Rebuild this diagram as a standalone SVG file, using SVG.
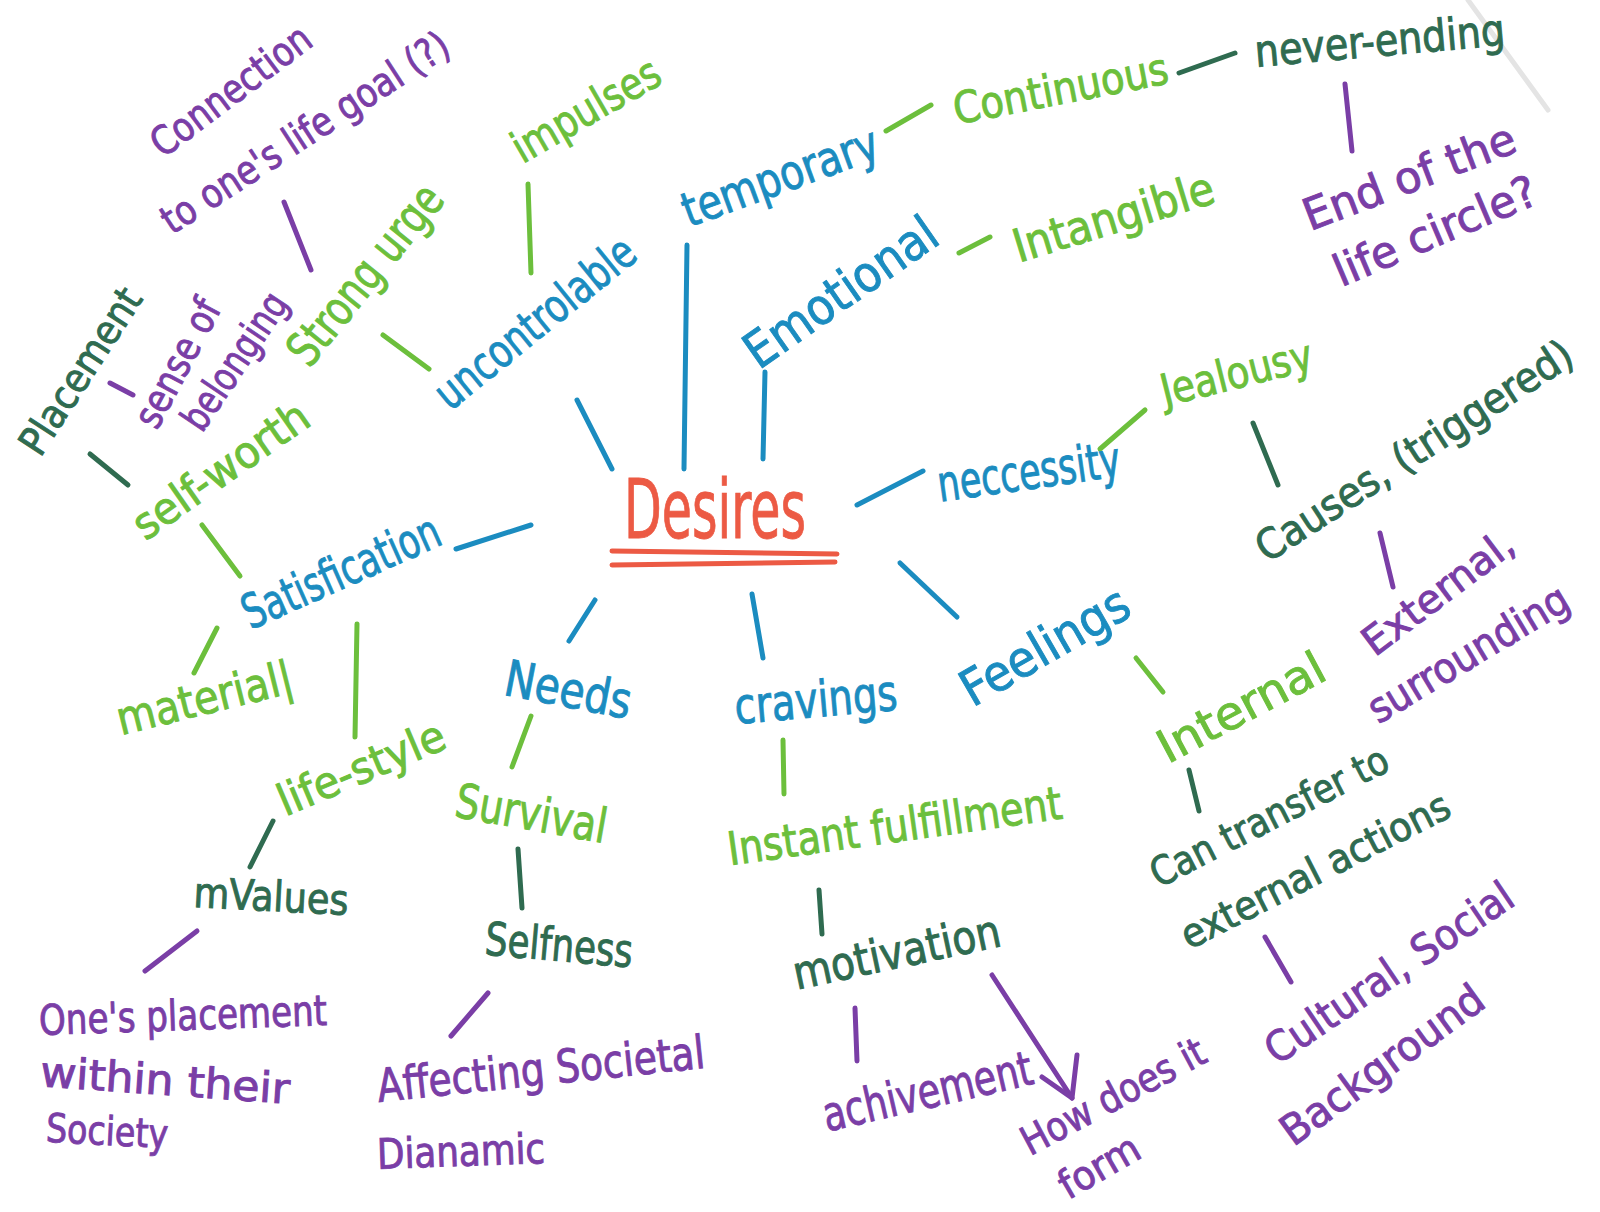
<svg xmlns="http://www.w3.org/2000/svg" width="1600" height="1212" viewBox="0 0 1600 1212">
<defs>
<style>
text{font-family:"Liberation Sans Narrow","DejaVu Sans Condensed","Liberation Sans",sans-serif;text-anchor:middle;stroke-width:0.9}
.b{fill:#1b8cc0;stroke:#1b8cc0}.r{fill:#ec5a44;stroke:#ec5a44}.g{fill:#6cbf3c;stroke:#6cbf3c}.dg{fill:#2f6b50;stroke:#2f6b50}.p{fill:#7a3ea6;stroke:#7a3ea6}
line,path{fill:none;stroke-width:5;stroke-linecap:round;stroke-linejoin:round}
.sb{stroke:#1b8cc0}.sr{stroke:#ec5a44}.sg{stroke:#6cbf3c}.sdg{stroke:#2f6b50}.sp{stroke:#7a3ea6}
</style>
</defs>
<rect width="1600" height="1212" fill="#ffffff"/>
<line x1="1468" y1="0" x2="1548" y2="110" stroke="#e4e4e4" stroke-width="0.8"/>

<g id="connectors">
<line class="sp" x1="284" y1="202" x2="311" y2="270"/>
<line class="sg" x1="528" y1="184" x2="531" y2="273"/>
<line class="sg" x1="383" y1="335" x2="429" y2="369"/>
<line class="sp" x1="110" y1="383" x2="133" y2="395"/>
<line class="sdg" x1="90" y1="454" x2="128" y2="485"/>
<line class="sg" x1="202" y1="525" x2="240" y2="576"/>
<line class="sb" x1="456" y1="549" x2="531" y2="525"/>
<line class="sg" x1="217" y1="628" x2="194" y2="673"/>
<line class="sg" x1="357" y1="624" x2="355" y2="737"/>
<line class="sb" x1="577" y1="400" x2="612" y2="469"/>
<line class="sb" x1="687" y1="245" x2="684" y2="469"/>
<line class="sb" x1="765" y1="372" x2="763" y2="459"/>
<line class="sb" x1="857" y1="505" x2="923" y2="471"/>
<line class="sb" x1="900" y1="563" x2="957" y2="617"/>
<line class="sb" x1="752" y1="594" x2="763" y2="658"/>
<line class="sb" x1="595" y1="600" x2="569" y2="641"/>
<line class="sg" x1="531" y1="716" x2="512" y2="767"/>
<line class="sdg" x1="518" y1="849" x2="522" y2="908"/>
<line class="sp" x1="488" y1="993" x2="451" y2="1036"/>
<line class="sdg" x1="273" y1="821" x2="250" y2="867"/>
<line class="sp" x1="197" y1="931" x2="145" y2="971"/>
<line class="sg" x1="783" y1="740" x2="784" y2="794"/>
<line class="sdg" x1="819" y1="890" x2="822" y2="934"/>
<line class="sp" x1="855" y1="1008" x2="857" y2="1061"/>
<line class="sp" x1="992" y1="975" x2="1072" y2="1098"/>
<path class="sp" d="M1042,1077 L1072,1098 L1077,1055"/>
<line class="sg" x1="1136" y1="658" x2="1163" y2="692"/>
<line class="sdg" x1="1189" y1="770" x2="1199" y2="811"/>
<line class="sp" x1="1265" y1="937" x2="1291" y2="982"/>
<line class="sg" x1="1100" y1="449" x2="1145" y2="410"/>
<line class="sdg" x1="1253" y1="423" x2="1278" y2="485"/>
<line class="sp" x1="1380" y1="533" x2="1393" y2="587"/>
<line class="sg" x1="959" y1="253" x2="990" y2="237"/>
<line class="sg" x1="886" y1="131" x2="931" y2="105"/>
<line class="sdg" x1="1179" y1="73" x2="1235" y2="53"/>
<line class="sp" x1="1345" y1="84" x2="1352" y2="151"/>
</g>

<g id="desires">
<text class="r" x="715" y="538" font-size="82" textLength="182" lengthAdjust="spacingAndGlyphs">Desires</text>
<line class="sr" x1="612" y1="551" x2="837" y2="554"/>
<line class="sr" x1="612" y1="565" x2="835" y2="562"/>
</g>

<g id="connection">
<text class="p" transform="translate(232,92) rotate(-37)" y="12" font-size="40" textLength="190" lengthAdjust="spacingAndGlyphs">Connection</text>
<text class="p" transform="translate(306,134) rotate(-33)" y="12" font-size="40" textLength="335" lengthAdjust="spacingAndGlyphs">to one's life goal (?)</text>
</g>
<g id="impulses" transform="translate(587,112) rotate(-30)"><text class="g" y="13" font-size="44" textLength="164" lengthAdjust="spacingAndGlyphs">impulses</text></g>
<g id="strong-urge" transform="translate(367,276) rotate(-51)"><text class="g" y="14" font-size="48" textLength="217" lengthAdjust="spacingAndGlyphs">Strong urge</text></g>
<g id="uncontrolable" transform="translate(536,324) rotate(-39)"><text class="b" y="14" font-size="46" textLength="244" lengthAdjust="spacingAndGlyphs">uncontrolable</text></g>
<g id="placement" transform="translate(82,372) rotate(-57)"><text class="dg" y="12" font-size="40" textLength="190" lengthAdjust="spacingAndGlyphs">Placement</text></g>
<g id="sense-of-belonging">
<text class="p" transform="translate(179,364) rotate(-62)" y="12" font-size="40" textLength="139" lengthAdjust="spacingAndGlyphs">sense of</text>
<text class="p" transform="translate(236,362) rotate(-56)" y="12" font-size="40" textLength="157" lengthAdjust="spacingAndGlyphs">belonging</text>
</g>
<g id="self-worth" transform="translate(222,472) rotate(-35)"><text class="g" y="13" font-size="44" textLength="205" lengthAdjust="spacingAndGlyphs">self-worth</text></g>
<g id="satisfication" transform="translate(342,574) rotate(-24)"><text class="b" y="14" font-size="48" textLength="212" lengthAdjust="spacingAndGlyphs">Satisfication</text></g>
<g id="material" transform="translate(205,700) rotate(-14)"><text class="g" y="14" font-size="46" textLength="180" lengthAdjust="spacingAndGlyphs">material|</text></g>
<g id="life-style" transform="translate(362,770) rotate(-23)"><text class="g" y="13" font-size="44" textLength="178" lengthAdjust="spacingAndGlyphs">life-style</text></g>
<g id="needs" transform="translate(568,692) rotate(11)"><text class="b" y="15" font-size="50" textLength="128" lengthAdjust="spacingAndGlyphs">Needs</text></g>
<g id="survival" transform="translate(531,816) rotate(10)"><text class="g" y="14" font-size="48" textLength="153" lengthAdjust="spacingAndGlyphs">Survival</text></g>
<g id="selfness" transform="translate(559,947) rotate(5)"><text class="dg" y="14" font-size="46" textLength="148" lengthAdjust="spacingAndGlyphs">Selfness</text></g>
<g id="affecting">
<text class="p" transform="translate(541,1071) rotate(-6)" y="14" font-size="46" textLength="329" lengthAdjust="spacingAndGlyphs">Affecting Societal</text>
<text class="p" transform="translate(461,1153) rotate(-2)" y="13" font-size="42" textLength="168" lengthAdjust="spacingAndGlyphs">Dianamic</text>
</g>
<g id="values" transform="translate(271,898) rotate(3)"><text class="dg" y="13" font-size="42" textLength="155" lengthAdjust="spacingAndGlyphs">mValues</text></g>
<g id="ones-placement">
<text class="p" transform="translate(183,1017) rotate(-2)" y="13" font-size="42" textLength="288" lengthAdjust="spacingAndGlyphs">One's placement</text>
<text class="p" transform="translate(165,1082) rotate(4)" y="13" font-size="42" textLength="250" lengthAdjust="spacingAndGlyphs">within their</text>
<text class="p" transform="translate(107,1133) rotate(3)" y="12" font-size="40" textLength="122" lengthAdjust="spacingAndGlyphs">Society</text>
</g>
<g id="cravings" transform="translate(816,702) rotate(-5)"><text class="b" y="15" font-size="50" textLength="163" lengthAdjust="spacingAndGlyphs">cravings</text></g>
<g id="instant" transform="translate(895,828) rotate(-8)"><text class="g" y="14" font-size="46" textLength="337" lengthAdjust="spacingAndGlyphs">Instant fulfillment</text></g>
<g id="motivation" transform="translate(897,954) rotate(-12)"><text class="dg" y="14" font-size="46" textLength="211" lengthAdjust="spacingAndGlyphs">motivation</text></g>
<g id="achivement" transform="translate(928,1094) rotate(-13)"><text class="p" y="14" font-size="48" textLength="214" lengthAdjust="spacingAndGlyphs">achivement</text></g>
<g id="how-does-it-form">
<text class="p" transform="translate(1114,1098) rotate(-28)" y="12" font-size="40" textLength="203" lengthAdjust="spacingAndGlyphs">How does it</text>
<text class="p" transform="translate(1100,1168) rotate(-30)" y="12" font-size="40" textLength="87" lengthAdjust="spacingAndGlyphs">form</text>
</g>
<g id="feelings" transform="translate(1046,648) rotate(-30)"><text class="b" y="15" font-size="50" textLength="187" lengthAdjust="spacingAndGlyphs">Feelings</text></g>
<g id="internal" transform="translate(1242,709) rotate(-28)"><text class="g" y="14" font-size="46" textLength="183" lengthAdjust="spacingAndGlyphs">Internal</text></g>
<g id="can-transfer">
<text class="dg" transform="translate(1270,818) rotate(-27)" y="12" font-size="40" textLength="262" lengthAdjust="spacingAndGlyphs">Can transfer to</text>
<text class="dg" transform="translate(1316,872) rotate(-27)" y="12" font-size="40" textLength="297" lengthAdjust="spacingAndGlyphs">external actions</text>
</g>
<g id="cultural-social">
<text class="p" transform="translate(1390,974) rotate(-34)" y="13" font-size="42" textLength="290" lengthAdjust="spacingAndGlyphs">Cultural, Social</text>
<text class="p" transform="translate(1383,1066) rotate(-36)" y="13" font-size="42" textLength="241" lengthAdjust="spacingAndGlyphs">Background</text>
</g>
<g id="necessity" transform="translate(1029,474) rotate(-8)"><text class="b" y="15" font-size="50" textLength="184" lengthAdjust="spacingAndGlyphs">neccessity</text></g>
<g id="jealousy" transform="translate(1237,375) rotate(-14)"><text class="g" y="13" font-size="44" textLength="155" lengthAdjust="spacingAndGlyphs">Jealousy</text></g>
<g id="causes" transform="translate(1415,452) rotate(-33)"><text class="dg" y="13" font-size="42" textLength="369" lengthAdjust="spacingAndGlyphs">Causes, (triggered)</text></g>
<g id="external-surrounding">
<text class="p" transform="translate(1439,594) rotate(-37)" y="12" font-size="40" textLength="179" lengthAdjust="spacingAndGlyphs">External,</text>
<text class="p" transform="translate(1469,655) rotate(-31)" y="13" font-size="42" textLength="227" lengthAdjust="spacingAndGlyphs">surrounding</text>
</g>
<g id="emotional" transform="translate(842,294) rotate(-35)"><text class="b" y="15" font-size="50" textLength="224" lengthAdjust="spacingAndGlyphs">Emotional</text></g>
<g id="intangible" transform="translate(1114,219) rotate(-17)"><text class="g" y="14" font-size="46" textLength="208" lengthAdjust="spacingAndGlyphs">Intangible</text></g>
<g id="temporary" transform="translate(781,179) rotate(-20)"><text class="b" y="14" font-size="48" textLength="206" lengthAdjust="spacingAndGlyphs">temporary</text></g>
<g id="continuous" transform="translate(1061,91) rotate(-11)"><text class="g" y="13" font-size="44" textLength="218" lengthAdjust="spacingAndGlyphs">Continuous</text></g>
<g id="never-ending" transform="translate(1380,43) rotate(-5)"><text class="dg" y="13" font-size="44" textLength="251" lengthAdjust="spacingAndGlyphs">never-ending</text></g>
<g id="end-of-life-circle">
<text class="p" transform="translate(1410,179) rotate(-21)" y="13" font-size="44" textLength="224" lengthAdjust="spacingAndGlyphs">End of the</text>
<text class="p" transform="translate(1436,233) rotate(-23)" y="13" font-size="44" textLength="217" lengthAdjust="spacingAndGlyphs">life circle?</text>
</g>
</svg>
